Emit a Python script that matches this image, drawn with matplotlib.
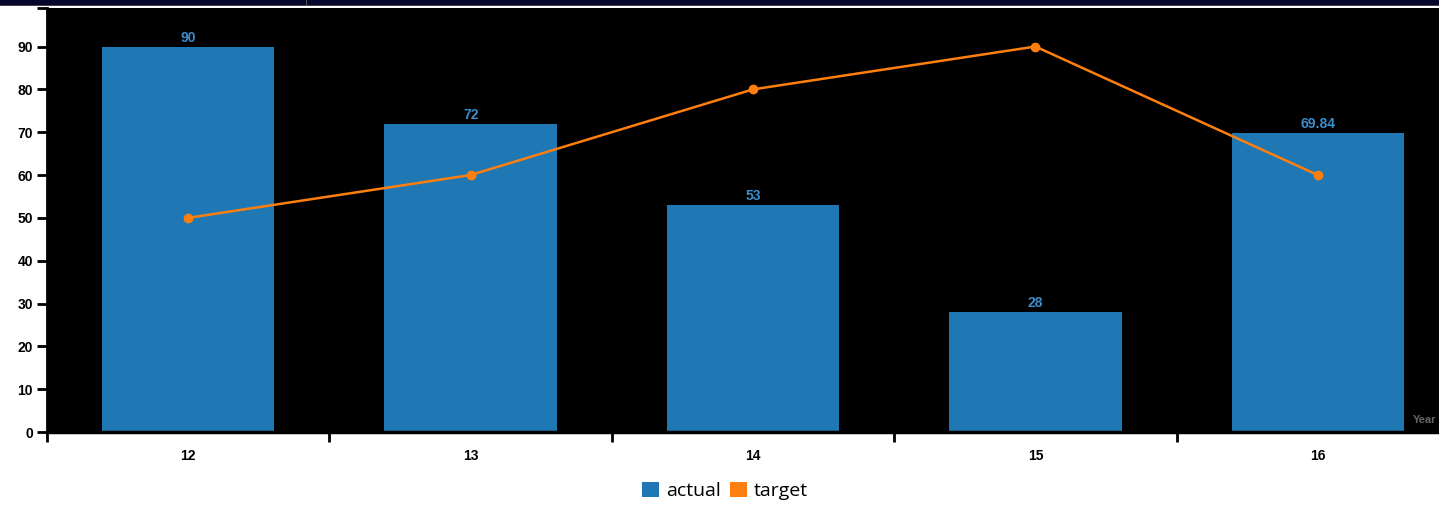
import matplotlib
matplotlib.use("Agg")
import matplotlib.pyplot as plt
from matplotlib.patches import Patch
import numpy as np

categories = ["12", "13", "14", "15", "16"]
actual = [90, 72, 53, 28, 69.84]
actual_labels = ["90", "72", "53", "28", "69.84"]
target = [50, 60, 80, 90, 60]
y_ticks = [0, 10, 20, 30, 40, 50, 60, 70, 80, 90]

W, H = 1439, 507
fig = plt.figure(figsize=(W / 100, H / 100), dpi=100)
fig.patch.set_facecolor("white")

# dark header strip along the top edge
fig.patches.append(plt.Rectangle((0, 1 - 5 / H), 1, 5 / H, transform=fig.transFigure,
                                 facecolor="#05052e", edgecolor="none", zorder=0))
fig.patches.append(plt.Rectangle((0, 1 - 6 / H), 1, 1.2 / H, transform=fig.transFigure,
                                 facecolor="#444444", edgecolor="none", zorder=0))
fig.patches.append(plt.Rectangle((306 / W, 1 - 6 / H), 1.2 / W, 6 / H, transform=fig.transFigure,
                                 facecolor="#555555", edgecolor="none", zorder=0))

left, right = 47, 1459
top, bottom = 8, 432
ax = fig.add_axes([left / W, 1 - bottom / H, (right - left) / W, (bottom - top) / H])
ax.set_facecolor("black")

label_font = dict(family="Liberation Sans", fontweight="bold", fontsize=10)

x = np.arange(len(categories))
ax.bar(x, actual, width=0.61, color="#1f77b4", zorder=2)
for xi, v, lab in zip(x, actual, actual_labels):
    ax.text(xi, v + 0.4, lab, ha="center", va="bottom", color="#3a8cca",
            zorder=3, **label_font)

ax.plot(x, target, color="#ff7f0e", linewidth=1.8, marker="o", markersize=6, zorder=4)

ax.set_xlim(-0.5, len(categories) - 0.5)
ax.set_ylim(0, 99)

# band boundaries get tick marks; category labels sit at band centres
ax.set_xticks(np.arange(len(categories)) - 0.5)
ax.set_xticklabels([])
ax.set_xticks(x, minor=True)
ax.set_xticklabels(categories, minor=True, **label_font)
ax.tick_params(axis="x", which="major", length=7, width=2, color="black", direction="out")
ax.tick_params(axis="x", which="minor", length=0, pad=12)

ax.set_yticks(y_ticks + [99])
ax.set_yticklabels([str(t) for t in y_ticks] + [""], **label_font)
ax.tick_params(axis="y", length=7, width=2, color="black", pad=3)

for s in ["top", "right"]:
    ax.spines[s].set_visible(False)
ax.spines["left"].set_linewidth(2)
ax.spines["left"].set_color("black")
ax.spines["bottom"].set_linewidth(2.5)
ax.spines["bottom"].set_color("black")

fig.text(1413 / W, 1 - 420 / H, "Year", color="#666666", fontsize=8,
         family="Liberation Sans", fontweight="bold", va="center", ha="left")

handles = [Patch(facecolor="#1f77b4", label="actual"),
           Patch(facecolor="#ff7f0e", label="target")]
fig.legend(handles=handles, loc="center", bbox_to_anchor=(725 / W, 1 - 491 / H),
           ncol=2, frameon=False, handlelength=0.85, handleheight=0.85,
           handletextpad=0.35, columnspacing=0.5, prop={"family": "Open Sans", "size": 14})

fig.savefig("out.png", dpi=100)
